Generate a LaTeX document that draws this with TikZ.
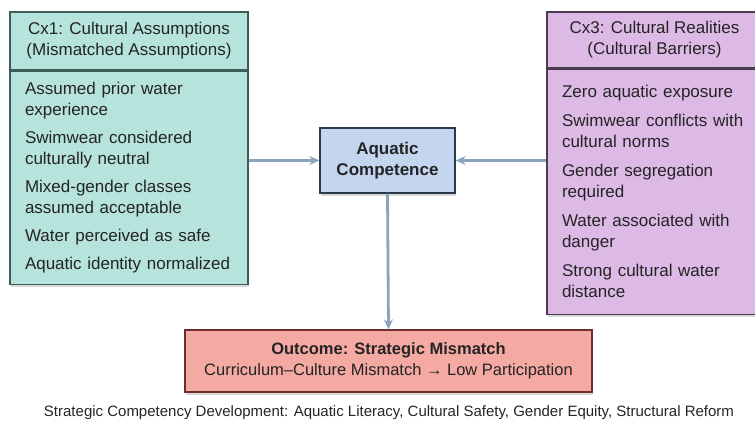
\documentclass[tikz,border=0pt]{standalone}
\usepackage{fontspec}
\setmainfont{Liberation Sans}
\usetikzlibrary{arrows.meta,shadows}

\definecolor{tealfill}{HTML}{B6E3DB}
\definecolor{tealline}{HTML}{3E5C57}
\definecolor{lilacfill}{HTML}{DDB9E6}
\definecolor{lilacline}{HTML}{4B3B52}
\definecolor{bluefill}{HTML}{C4D6EF}
\definecolor{blueline}{HTML}{2A3A4A}
\definecolor{salmonfill}{HTML}{F5A9A3}
\definecolor{salmonline}{HTML}{6B2F2C}
\definecolor{flowcol}{HTML}{8DA3BB}
\definecolor{inkcol}{HTML}{242424}

\begin{document}
\begin{tikzpicture}[x=1pt, y=-1pt,
    box/.style={draw, line width=1.3pt, inner sep=0pt, text=inkcol,
        drop shadow={opacity=0.3, shadow xshift=1pt, shadow yshift=-2.5pt}},
    head/.style={box, align=center, font=\fontsize{17}{21}\selectfont},
    body/.style={box, anchor=north, align=left, inner xsep=15pt,
        font=\fontsize{17}{21}\selectfont},
    flow/.style={-{Stealth[length=10pt, width=9pt]}, line width=2.8pt, flowcol}]
    \useasboundingbox (0,0) rectangle (755,425);

    % Cx1 (left) - assumptions
    \node[head, fill=tealfill, draw=tealline, minimum width=238pt, minimum height=58pt]
        (cx1head) at (129,41) {Cx1: Cultural Assumptions\\(Mismatched Assumptions)};
    \node[body, fill=tealfill, draw=tealline, minimum width=238pt, minimum height=213pt,
        text width=208pt] (cx1body) at (cx1head.south)
        {Assumed prior water\\experience\\[7pt]
         Swimwear considered\\culturally neutral\\[7pt]
         Mixed-gender classes\\assumed acceptable\\[7pt]
         Water perceived as safe\\[7pt]
         Aquatic identity normalized};

    % Cx3 (right) - realities
    \node[head, fill=lilacfill, draw=lilacline, minimum width=215pt, minimum height=56pt]
        (cx3head) at (654.5,40) {Cx3: Cultural Realities\\(Cultural Barriers)};
    \node[body, fill=lilacfill, draw=lilacline, minimum width=215pt, minimum height=245pt,
        text width=185pt] (cx3body) at (cx3head.south)
        {Zero aquatic exposure\\[8pt]
         Swimwear conflicts with\\cultural norms\\[8pt]
         Gender segregation\\required\\[8pt]
         Water associated with\\danger\\[8pt]
         Strong cultural water\\distance};

    % Centre
    \node[box, fill=bluefill, draw=blueline, minimum width=135pt, minimum height=65pt,
        align=center, font=\fontsize{17}{21}\selectfont\bfseries]
        (comp) at (387.5,160.5) {Aquatic\\Competence};

    % Outcome
    \node[box, fill=salmonfill, draw=salmonline, minimum width=407pt, minimum height=62pt,
        align=center, font=\fontsize{16.5}{21}\selectfont]
        (outcome) at (388.5,361) {\textbf{Outcome: Strategic Mismatch}\\
        Curriculum–Culture Mismatch → Low Participation};

    \node[text=inkcol, font=\fontsize{15}{18}\selectfont] (caption) at (389,413)
        {Strategic Competency Development: Aquatic Literacy, Cultural Safety, Gender Equity, Structural Reform};

    % Arrows
    \draw[flow] (cx1body.east |- comp.west) -- (comp.west);
    \draw[flow] (cx3body.west |- comp.east) -- (comp.east);
    \draw[flow] (comp.south) -- (outcome.north);
\end{tikzpicture}
\end{document}
